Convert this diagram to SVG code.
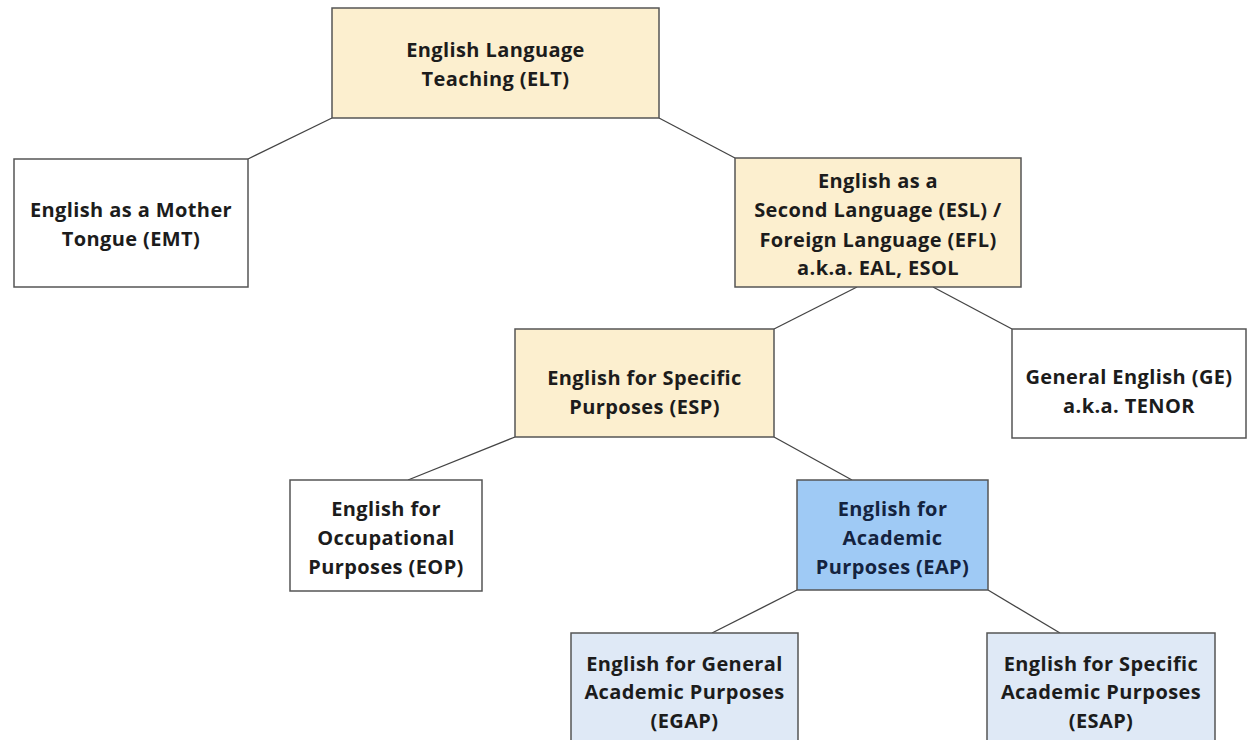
<svg xmlns="http://www.w3.org/2000/svg" width="1247" height="740" viewBox="0 0 1247 740">
<style>
.box{stroke:#555;stroke-width:1.5}
.tan{fill:#fcefcf}
.white{fill:#ffffff}
.blue{fill:#9fcaf5}
.pale{fill:#dfe9f6}
text{font-family:"Open Sans","Noto Sans",sans-serif;font-weight:700;font-size:20px;letter-spacing:0.4px;fill:#1c1c1c;text-anchor:middle}
.dk{fill:#14233f}
.conn line{stroke:#444;stroke-width:1.3}
</style>
<rect width="1247" height="740" fill="#ffffff"/>
<g class="conn" id="connectors">
<line x1="332" y1="118" x2="248" y2="159"/>
<line x1="659" y1="118" x2="735" y2="158"/>
<line x1="857" y1="287" x2="774" y2="329"/>
<line x1="933" y1="287" x2="1012" y2="329"/>
<line x1="515" y1="437" x2="408" y2="480"/>
<line x1="774" y1="437" x2="852" y2="480"/>
<line x1="797" y1="590" x2="712" y2="633"/>
<line x1="988" y1="590" x2="1060" y2="633"/>
</g>
<g id="elt">
<rect class="box tan" x="332" y="8" width="327" height="110"/>
<text x="495.5" y="57">English Language</text>
<text x="495.5" y="86">Teaching (ELT)</text>
</g>
<g id="emt">
<rect class="box white" x="14" y="159" width="234" height="128"/>
<text x="131" y="217">English as a Mother</text>
<text x="131" y="246">Tongue (EMT)</text>
</g>
<g id="esl">
<rect class="box tan" x="735" y="158" width="286" height="129"/>
<text x="878" y="188">English as a</text>
<text x="878" y="217">Second Language (ESL) /</text>
<text x="878" y="247">Foreign Language (EFL)</text>
<text x="878" y="275">a.k.a. EAL, ESOL</text>
</g>
<g id="esp">
<rect class="box tan" x="515" y="329" width="259" height="108"/>
<text x="644.5" y="385">English for Specific</text>
<text x="644.5" y="414">Purposes (ESP)</text>
</g>
<g id="ge">
<rect class="box white" x="1012" y="329" width="234" height="109"/>
<text x="1129" y="384">General English (GE)</text>
<text x="1129" y="413">a.k.a. TENOR</text>
</g>
<g id="eop">
<rect class="box white" x="290" y="480" width="192" height="111"/>
<text x="386" y="516">English for</text>
<text x="386" y="545">Occupational</text>
<text x="386" y="574">Purposes (EOP)</text>
</g>
<g id="eap">
<rect class="box blue" x="797" y="480" width="191" height="110"/>
<text class="dk" x="892.5" y="516">English for</text>
<text class="dk" x="892.5" y="545">Academic</text>
<text class="dk" x="892.5" y="574">Purposes (EAP)</text>
</g>
<g id="egap">
<rect class="box pale" x="571" y="633" width="227" height="120"/>
<text x="684.5" y="671">English for General</text>
<text x="684.5" y="699">Academic Purposes</text>
<text x="684.5" y="728">(EGAP)</text>
</g>
<g id="esap">
<rect class="box pale" x="987" y="633" width="228" height="120"/>
<text x="1101" y="671">English for Specific</text>
<text x="1101" y="699">Academic Purposes</text>
<text x="1101" y="728">(ESAP)</text>
</g>
</svg>
